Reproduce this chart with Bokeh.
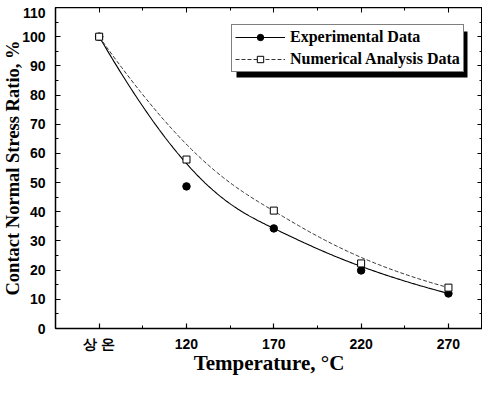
import numpy as np
from bokeh.plotting import figure
from bokeh.layouts import column
from bokeh.models import (FixedTicker, LinearAxis, Legend, LegendItem, Spacer,
                          BoxAnnotation, ColumnDataSource, Range1d, CustomJSTickFormatter)
from bokeh.embed import file_html
from bokeh.resources import INLINE

# ---- data ----
x_labels = ["상 온", "120", "170", "220", "270"]
x_pos = [0, 1, 2, 3, 4]
exp_vals = [100, 48.7, 34.3, 19.9, 12.0]
num_vals = [100, 57.9, 40.4, 22.3, 14.0]
y_ticks = list(range(0, 111, 10))


def bspline(cx, cy, n=200, k=3):
    """Clamped B-spline connection through the data as control points (Origin-style)."""
    cx = np.asarray(cx, float)
    cy = np.asarray(cy, float)
    m = len(cx)
    knots = np.array([0] * k + list(range(m - k + 1)) + [m - k] * k, float)
    ts = np.linspace(0, m - k, n)
    ts[-1] -= 1e-9

    def basis(i, d, t):
        if d == 0:
            return 1.0 if knots[i] <= t < knots[i + 1] else 0.0
        a = 0.0
        if knots[i + d] != knots[i]:
            a = (t - knots[i]) / (knots[i + d] - knots[i]) * basis(i, d - 1, t)
        b = 0.0
        if knots[i + d + 1] != knots[i + 1]:
            b = (knots[i + d + 1] - t) / (knots[i + d + 1] - knots[i + 1]) * basis(i + 1, d - 1, t)
        return a + b

    xs, ys = [], []
    for t in ts:
        w = np.array([basis(i, k, t) for i in range(m)])
        xs.append(float(w @ cx))
        ys.append(float(w @ cy))
    return xs, ys


exp_cx, exp_cy = bspline(x_pos, exp_vals)
num_cx, num_cy = bspline(x_pos, num_vals)

p = figure(frame_width=427, frame_height=321,
           x_range=Range1d(-0.5, 4.39), y_range=Range1d(0, 110),
           output_backend="svg", toolbar_location=None,
           min_border_left=0, min_border_right=0, min_border_top=0, min_border_bottom=0)
p.xgrid.visible = False
p.ygrid.visible = False
p.outline_line_color = "black"
p.background_fill_color = "white"

x_ticker = FixedTicker(ticks=x_pos, minor_ticks=[-0.5, 0.5, 1.5, 2.5, 3.5])
y_ticker = FixedTicker(ticks=y_ticks, minor_ticks=list(range(5, 110, 10)))

tick_font = "Liberation Sans"
title_font = "Liberation Serif"

xa = p.xaxis[0]
xa.ticker = x_ticker
xa.major_label_overrides = {i: lab for i, lab in zip(x_pos, x_labels)}
ya = p.yaxis[0]
ya.ticker = y_ticker

for ax in (xa, ya):
    ax.major_tick_in = 5
    ax.major_tick_out = 0
    ax.minor_tick_in = 3
    ax.minor_tick_out = 0
    ax.axis_line_width = 1.5
    ax.major_tick_line_width = 1.2
    ax.major_label_text_font = tick_font
    ax.major_label_text_font_style = "bold"
    ax.major_label_text_font_size = "14px"
    ax.major_label_text_color = "black"
    ax.axis_label_text_font = title_font
    ax.axis_label_text_font_style = "bold"
    ax.axis_label_text_color = "black"

xa.axis_label = "Temperature, °C"
xa.axis_label_text_font_size = "21px"
xa.major_label_standoff = 7
xa.axis_label_standoff = -4
ya.axis_label = "Contact Normal Stress Ratio, %"
ya.axis_label_text_font_size = "18.5px"
ya.major_label_standoff = 10
ya.axis_label_standoff = -4

blank = CustomJSTickFormatter(code="return ''")
top = LinearAxis(ticker=x_ticker, formatter=blank, major_label_text_font_size="0px",
                 major_tick_in=5, major_tick_out=0, minor_tick_in=3, minor_tick_out=0,
                 major_label_standoff=0, axis_line_width=1.5)
right = LinearAxis(ticker=y_ticker, formatter=blank, major_label_text_font_size="0px",
                   major_tick_in=5, major_tick_out=0, minor_tick_in=3, minor_tick_out=0,
                   major_label_standoff=0, axis_line_width=1.5)
p.add_layout(top, "above")
p.add_layout(right, "right")

# curves (B-spline connection)
l_exp = p.line(exp_cx, exp_cy, line_color="black", line_width=1.1)
l_num = p.line(num_cx, num_cy, line_color="#333333", line_width=1, line_dash="4 2")

src = ColumnDataSource(dict(x=x_pos, e=exp_vals, n=num_vals))
s_exp = p.scatter("x", "e", source=src, marker="circle", size=7.5,
                  fill_color="black", line_color="black")
s_num = p.scatter("x", "n", source=src, marker="square", size=7,
                  fill_color="white", line_color="black", line_width=1)

# legend drop shadow (frame-relative screen px)
leg_x, leg_y, leg_w, leg_h = 176, 256, 231, 46
shadow = BoxAnnotation(left=leg_x + 5, right=leg_x + leg_w + 5,
                       bottom=leg_y - 5, top=leg_y + leg_h - 5,
                       left_units="screen", right_units="screen",
                       bottom_units="screen", top_units="screen",
                       fill_color="black", fill_alpha=1, line_color=None)
p.add_layout(shadow)

legend = Legend(items=[LegendItem(label="Experimental Data", renderers=[l_exp, s_exp]),
                       LegendItem(label="Numerical Analysis Data", renderers=[l_num, s_num])],
                location=(leg_x, leg_y),
                label_text_font=title_font, label_text_font_style="bold",
                label_text_font_size="16px", label_text_color="black",
                border_line_color="black", border_line_width=1,
                background_fill_color="white", background_fill_alpha=1,
                glyph_width=50, glyph_height=16, label_standoff=5,
                padding=3, spacing=4, margin=0)
p.add_layout(legend, "center")

layout = column(Spacer(width=20, height=7), p, spacing=0)
open("out.html", "w").write(file_html(layout, INLINE))
